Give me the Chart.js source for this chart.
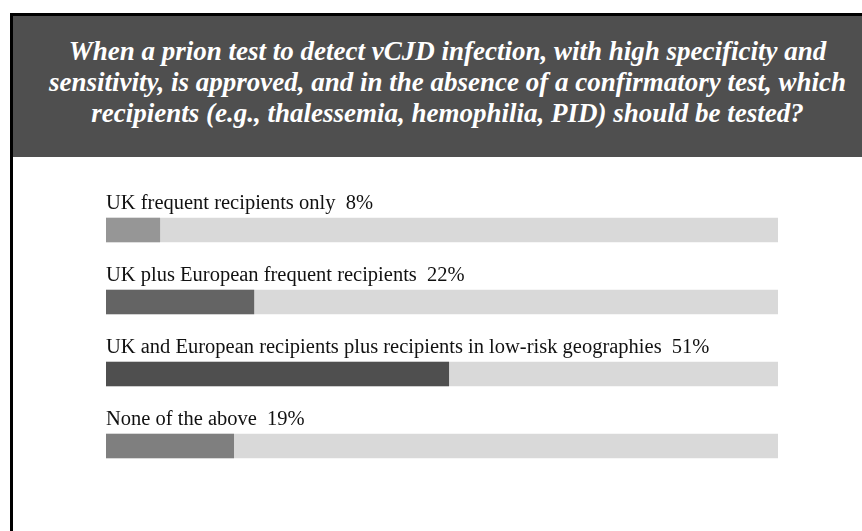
<!DOCTYPE html>
<html lang="en">
  <head>
    <meta charset="UTF-8" />
    <script src="https://cdn.jsdelivr.net/npm/chart.js"></script>
    <title>Prion test poll</title>
    <style>
      body { margin: 0; width: 862px; height: 531px; background: #fff; overflow: hidden; position: relative; }
      #frameTop { position: absolute; left: 10px; top: 13px; width: 852px; height: 3px; background: #000; }
      #frameLeft { position: absolute; left: 10px; top: 13px; width: 3px; height: 518px; background: #000; }
      #header {
        position: absolute; left: 13px; top: 16px; width: 849px; height: 141px; background: #4f4f4f;
        color: #fff; font-family: "Liberation Serif", serif; font-style: italic; font-weight: bold;
        font-size: 27px; line-height: 31px; text-align: center; box-sizing: border-box; padding-top: 20px;
        white-space: nowrap;
      }
      #header div { position: relative; left: 10px; }
      #wrap { position: absolute; left: 0; top: 0; width: 862px; height: 531px; }
    </style>
  </head>
  <body>
    <div id="wrap"><canvas id="poll" width="862" height="531"></canvas></div>
    <div id="frameTop"></div>
    <div id="frameLeft"></div>
    <div id="header">
      <div>When a prion test to detect vCJD infection, with high specificity and</div>
      <div>sensitivity, is approved, and in the absence of a confirmatory test, which</div>
      <div>recipients (e.g., thalessemia, hemophilia, PID) should be tested?</div>
    </div>
    <script>
      const answers = [
        'UK frequent recipients only',
        'UK plus European frequent recipients',
        'UK and European recipients plus recipients in low-risk geographies',
        'None of the above'
      ];
      const percents = [8, 22, 51, 19];
      const full = [100, 100, 100, 100];
      const barColors = ['#969696', '#646464', '#4f4f4f', '#7f7f7f'];

      const answerLabels = {
        id: 'answerLabels',
        afterDatasetsDraw(chart) {
          const ctx = chart.ctx;
          const x = chart.scales.x.getPixelForValue(0);
          ctx.save();
          ctx.font = '20.5px "Liberation Serif", "Times New Roman", serif';
          ctx.fillStyle = '#111';
          ctx.textAlign = 'left';
          ctx.textBaseline = 'alphabetic';
          answers.forEach((a, i) => {
            const y = chart.scales.y.getPixelForValue(i);
            ctx.fillText(a + '  ' + percents[i] + '%', x, y - 21);
          });
          ctx.restore();
        }
      };

      new Chart(document.getElementById('poll'), {
        type: 'bar',
        data: {
          labels: answers,
          datasets: [
            { data: percents, backgroundColor: barColors, barThickness: 24, grouped: false, order: 1 },
            { data: full, backgroundColor: '#d9d9d9', barThickness: 24, grouped: false, order: 2 }
          ]
        },
        options: {
          indexAxis: 'y',
          responsive: false,
          animation: false,
          events: [],
          layout: { padding: { left: 106, right: 84, top: 194, bottom: 49 } },
          plugins: { legend: { display: false }, tooltip: { enabled: false }, title: { display: false } },
          scales: {
            x: { display: false, min: 0, max: 100 },
            y: { display: false }
          }
        },
        plugins: [answerLabels]
      });
    </script>
  </body>
</html>
